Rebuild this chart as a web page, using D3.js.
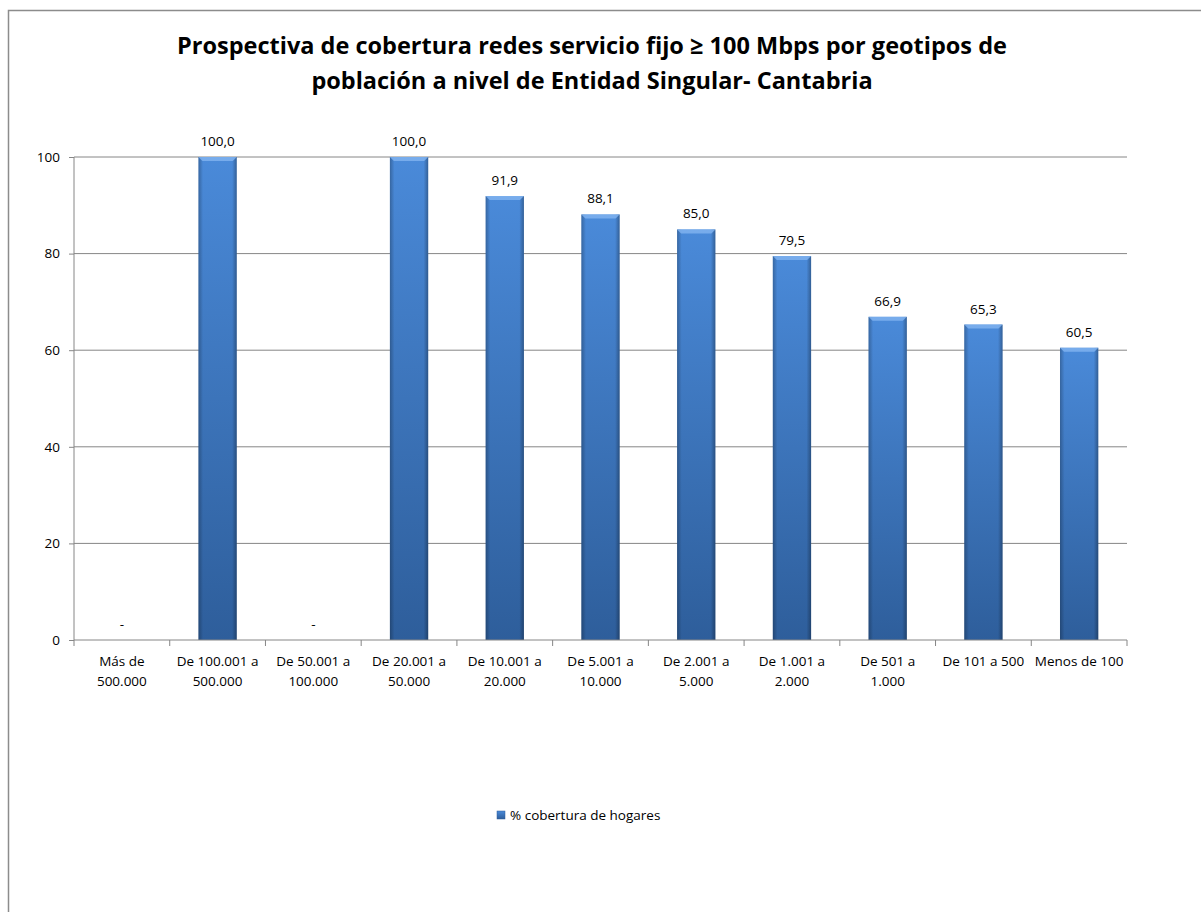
<!DOCTYPE html>
<html>
<head>
<meta charset="utf-8">
<script src="https://cdn.jsdelivr.net/npm/d3@7"></script>
<style>
	body { margin: 0; background: #fff; }
	svg text { font-family: "Open Sans", "Noto Sans", sans-serif; fill: #000; }
	.title { font-size: 23.5px; font-weight: bold; }
	.tick text { font-size: 13.5px; }
	.valueLabel { font-size: 13.5px; }
	.legendText { font-size: 13.5px; }
</style>
</head>
<body>
<svg class="chart"></svg>
<script>
// categories and values
var categories = ["Más de|500.000", "De 100.001 a|500.000", "De 50.001 a|100.000", "De 20.001 a|50.000",
	"De 10.001 a|20.000", "De 5.001 a|10.000", "De 2.001 a|5.000", "De 1.001 a|2.000",
	"De 501 a|1.000", "De 101 a 500", "Menos de 100"];
var values = [null, 100.0, null, 100.0, 91.9, 88.1, 85.0, 79.5, 66.9, 65.3, 60.5];
var yTicks = [0, 20, 40, 60, 80, 100];
var titleLines = ["Prospectiva de cobertura redes servicio fijo \u2265 100 Mbps por geotipos de",
	"población a nivel de Entidad Singular- Cantabria"];
var seriesName = "% cobertura de hogares";

var width = 1201, height = 912;
var svg = d3.select(".chart").attr("width", width).attr("height", height);

// outer frame (runs off the right and bottom edges)
svg.append("rect")
	.attr("x", 8.5).attr("y", 10.5)
	.attr("width", 1300).attr("height", 1000)
	.attr("fill", "#fff").attr("stroke", "#8c8c8c").attr("stroke-width", 1.5);

var defs = svg.append("defs");
var grad = defs.append("linearGradient").attr("id", "barGrad")
	.attr("x1", 0).attr("y1", 0).attr("x2", 0).attr("y2", 1);
grad.append("stop").attr("offset", "0%").attr("stop-color", "#4a8ad9");
grad.append("stop").attr("offset", "100%").attr("stop-color", "#2e5e9b");

var side = defs.append("linearGradient").attr("id", "sideGrad")
	.attr("x1", 0).attr("y1", 0).attr("x2", 1).attr("y2", 0);
side.append("stop").attr("offset", "0%").attr("stop-color", "#000").attr("stop-opacity", 0.25);
side.append("stop").attr("offset", "12%").attr("stop-color", "#000").attr("stop-opacity", 0);
side.append("stop").attr("offset", "88%").attr("stop-color", "#000").attr("stop-opacity", 0);
side.append("stop").attr("offset", "100%").attr("stop-color", "#000").attr("stop-opacity", 0.3);

// title
svg.selectAll(".title").data(titleLines).enter().append("text")
	.attr("class", "title")
	.attr("x", 592).attr("y", function(d, i) { return 54 + i * 35; })
	.attr("text-anchor", "middle")
	.text(function(d) { return d; });

var plotLeft = 74, plotRight = 1127, plotTop = 157, plotBottom = 640;

var x = d3.scaleBand().domain(categories).range([plotLeft, plotRight]).paddingInner(0.6).paddingOuter(0.3);
var xOuter = d3.scaleBand().domain(categories).range([plotLeft, plotRight]);
var y = d3.scaleLinear().domain([0, 100]).range([plotBottom, plotTop]);

// gridlines
svg.append("g").selectAll("line").data(yTicks.slice(1)).enter().append("line")
	.attr("x1", plotLeft).attr("x2", plotRight)
	.attr("y1", function(d) { return y(d); }).attr("y2", function(d) { return y(d); })
	.attr("stroke", "#868686").attr("stroke-width", 1);

// y axis
var yAxis = svg.append("g").attr("transform", "translate(" + plotLeft + ",0)")
	.call(d3.axisLeft(y).tickValues(yTicks).tickSize(5).tickPadding(9));
yAxis.selectAll("line, path").attr("stroke", "#868686");
yAxis.selectAll("text").style("font-size", "13.5px").style("font-family", "'Open Sans', sans-serif");
yAxis.select(".domain").attr("d", "M0," + plotTop + "V" + plotBottom);

// bars
var data = categories.map(function(c, i) { return { cat: c, v: values[i] }; });
var bars = svg.append("g").selectAll("g").data(data.filter(function(d) { return d.v != null; }))
	.enter().append("g");
bars.append("rect")
	.attr("x", function(d) { return x(d.cat); })
	.attr("y", function(d) { return y(d.v); })
	.attr("width", x.bandwidth())
	.attr("height", function(d) { return plotBottom - y(d.v); })
	.attr("fill", "url(#barGrad)");
bars.append("rect")
	.attr("x", function(d) { return x(d.cat); })
	.attr("y", function(d) { return y(d.v); })
	.attr("width", x.bandwidth())
	.attr("height", function(d) { return plotBottom - y(d.v); })
	.attr("fill", "url(#sideGrad)");
// top bevel
bars.append("path")
	.attr("d", function(d) {
		var x0 = x(d.cat), x1 = x0 + x.bandwidth(), y0 = y(d.v);
		return "M" + x0 + "," + y0 + "H" + x1 + "L" + (x1 - 4) + "," + (y0 + 4) + "H" + (x0 + 4) + "Z";
	})
	.attr("fill", "#7fb2ee").attr("opacity", 0.85);

// value labels
svg.append("g").selectAll("text").data(data).enter().append("text")
	.attr("class", "valueLabel")
	.attr("x", function(d) { return x(d.cat) + x.bandwidth() / 2; })
	.attr("y", function(d) { return (d.v == null ? y(0) : y(d.v)) - 11; })
	.attr("text-anchor", "middle")
	.text(function(d) { return d.v == null ? "-" : d3.format(".1f")(d.v).replace(".", ","); });

// x axis
var xAxis = svg.append("g").attr("transform", "translate(0," + plotBottom + ")");
xAxis.append("line").attr("x1", plotLeft).attr("x2", plotRight).attr("stroke", "#868686");
xAxis.selectAll(".xt").data(categories.concat(["end"])).enter().append("line")
	.attr("x1", function(d, i) { return plotLeft + i * xOuter.step(); })
	.attr("x2", function(d, i) { return plotLeft + i * xOuter.step(); })
	.attr("y1", 0).attr("y2", 6).attr("stroke", "#868686");
var xl = xAxis.selectAll(".xl").data(categories).enter().append("text")
	.attr("class", "tick")
	.attr("text-anchor", "middle")
	.attr("transform", function(d) { return "translate(" + (xOuter(d) + xOuter.bandwidth() / 2) + ",0)"; });
xl.selectAll("tspan").data(function(d) { return d.split("|"); }).enter().append("tspan")
	.attr("x", 0).attr("y", function(d, i) { return 26 + i * 20; })
	.style("font-size", "13.5px")
	.text(function(d) { return d; });

// legend
var legend = svg.append("g").attr("transform", "translate(497,815)");
legend.append("rect").attr("x", 0).attr("y", -4).attr("width", 8).attr("height", 8)
	.attr("fill", "url(#barGrad)").attr("stroke", "#2e5e9b").attr("stroke-width", 0.5);
legend.append("text").attr("class", "legendText").attr("x", 13).attr("y", 5).text(seriesName);
</script>
</body>
</html>
